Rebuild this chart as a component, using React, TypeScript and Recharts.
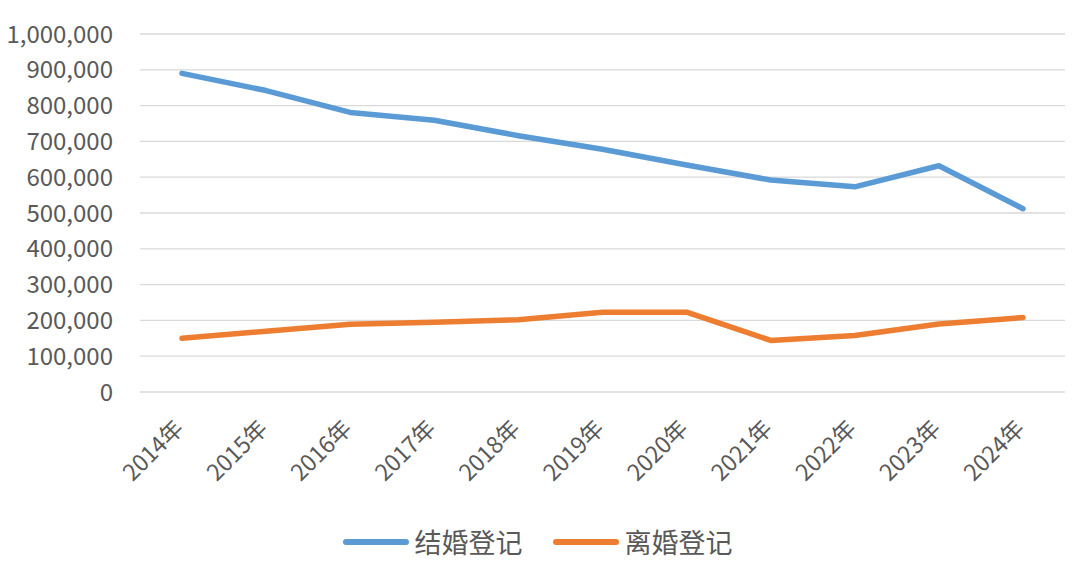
import React from 'react';
import { LineChart, Line, XAxis, YAxis, CartesianGrid, Legend } from 'recharts';

const years = ['2014年', '2015年', '2016年', '2017年', '2018年', '2019年', '2020年', '2021年', '2022年', '2023年', '2024年'];
const marriage = [890000, 842000, 781000, 759000, 716000, 678000, 634000, 592000, 573000, 632000, 512000];
const divorce = [150000, 170000, 189000, 195000, 202000, 223000, 223000, 144000, 158000, 190000, 208000];
const yTicks = [0, 100000, 200000, 300000, 400000, 500000, 600000, 700000, 800000, 900000, 1000000];
const seriesNames = ['结婚登记', '离婚登记'];

const data = years.map((y, i) => ({ year: y, marriage: marriage[i], divorce: divorce[i] }));

const FONT = '"Noto Sans CJK SC", "Noto Sans", sans-serif';

const XTick = (props: any) => {
  const { x, y, payload } = props;
  return (
    <g transform={`translate(${x + 3},${y})`}>
      <text x={0} y={0} textAnchor="end" transform="rotate(-45)" fill="#595959" fontSize={23} fontFamily={FONT}>
        {payload.value}
      </text>
    </g>
  );
};

const LegendContent = (props: any) => {
  const payload = [...(props.payload || [])].sort(
    (a: any, b: any) => seriesNames.indexOf(a.value) - seriesNames.indexOf(b.value)
  );
  return (
    <div style={{ height: 60, display: 'flex', justifyContent: 'center', alignItems: 'center', fontFamily: FONT, paddingLeft: 10 }}>
      {payload.map((p: any, i: number) => (
        <div key={i} style={{ display: 'flex', alignItems: 'center', marginLeft: i === 0 ? 0 : 30 }}>
          <svg width={66} height={10}>
            <line x1={3} y1={5} x2={63} y2={5} stroke={p.color} strokeWidth={6} strokeLinecap="round" />
          </svg>
          <span style={{ fontSize: 27, color: '#595959', marginLeft: 6, lineHeight: '30px' }}>{p.value}</span>
        </div>
      ))}
    </div>
  );
};

export default function App() {
  return (
    <div style={{ position: 'absolute', left: 0, top: 0, width: 1080, height: 572, background: '#fff' }}>
      <LineChart width={1080} height={572} data={data} margin={{ top: 34, right: 15, left: 0, bottom: 0 }}>
        <CartesianGrid vertical={false} stroke="#d9d9d9" strokeWidth={1.3} />
        <XAxis
          dataKey="year"
          axisLine={false}
          tickLine={false}
          height={120}
          tick={<XTick />}
          interval={0}
          tickSize={0}
          tickMargin={38}
          padding={{ left: 42, right: 42 }}
        />
        <YAxis
          domain={[0, 1000000]}
          ticks={yTicks}
          axisLine={false}
          tickLine={false}
          width={140}
          tickSize={0}
          tickMargin={27}
          interval={0}
          tick={{ fill: '#595959', fontSize: 24, fontFamily: FONT }}
          tickFormatter={(v: number) => v.toLocaleString('en-US')}
        />
        <Legend verticalAlign="bottom" content={<LegendContent />} />
        <Line dataKey="marriage" name="结婚登记" stroke="#5B9BD5" strokeWidth={5.5} dot={false} isAnimationActive={false} strokeLinejoin="round" strokeLinecap="round" />
        <Line dataKey="divorce" name="离婚登记" stroke="#ED7D31" strokeWidth={5.5} dot={false} isAnimationActive={false} strokeLinejoin="round" strokeLinecap="round" />
      </LineChart>
    </div>
  );
}
